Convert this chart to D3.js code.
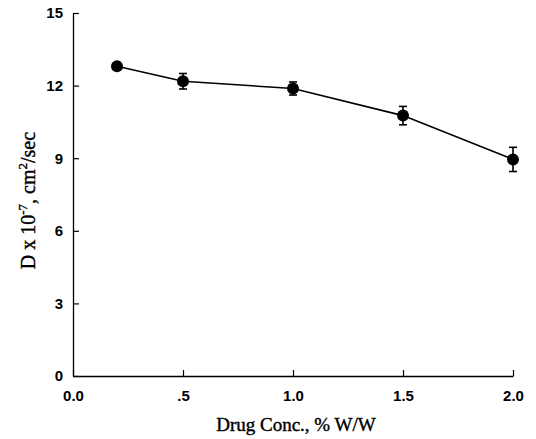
<!DOCTYPE html>
<html>
<head>
<meta charset="utf-8">
<script src="https://cdn.jsdelivr.net/npm/d3@7"></script>
<style>
  body { margin: 0; background: #fff; }
</style>
</head>
<body>
<div id="chart"></div>
<script>
// data
const conc = [0.2, 0.5, 1.0, 1.5, 2.0];
const diffusion = [12.8, 12.18, 11.88, 10.76, 8.95];
const errBar = [0, 0.32, 0.27, 0.38, 0.5];
const xTicks = [0, 0.5, 1.0, 1.5, 2.0];
const xTickLabels = ["0.0", ".5", "1.0", "1.5", "2.0"];
const yTicks = [0, 3, 6, 9, 12, 15];

const margin = {top: 13, right: 23, bottom: 63, left: 73},
  width = 536 - margin.left - margin.right,
  height = 439 - margin.top - margin.bottom;

const svg = d3.select("#chart")
  .append("svg")
    .attr("width", 536)
    .attr("height", 439)
  .append("g")
    .attr("transform", `translate(${margin.left},${margin.top})`);

const x = d3.scaleLinear().domain([0, 2]).range([0, width]);
const y = d3.scaleLinear().domain([0, 15]).range([height, 0]);

// X axis, ticks pointing inward
const xAxis = svg.append("g")
  .attr("transform", `translate(0,${height})`)
  .call(d3.axisBottom(x).tickValues(xTicks)
    .tickSizeInner(-6).tickSizeOuter(0)
    .tickFormat((d, i) => xTickLabels[i]));
xAxis.selectAll("text")
  .attr("y", 14)
  .style("font-family", "'Liberation Sans', Arial, sans-serif")
  .style("font-weight", "bold")
  .style("font-size", "15px");

// Y axis
const yAxis = svg.append("g")
  .call(d3.axisLeft(y).tickValues(yTicks)
    .tickSizeInner(-6).tickSizeOuter(0));
yAxis.selectAll("text")
  .attr("x", -10)
  .style("font-family", "'Liberation Sans', Arial, sans-serif")
  .style("font-weight", "bold")
  .style("font-size", "15px");

svg.selectAll(".domain").attr("stroke", "#000").attr("stroke-width", 1.3);
svg.selectAll(".tick line").attr("stroke", "#000").attr("stroke-width", 1.2);

// axis labels
svg.append("text")
  .attr("x", width / 2 + 3)
  .attr("y", height + 55)
  .style("text-anchor", "middle")
  .style("font-family", "'Liberation Serif', 'Times New Roman', serif")
  .style("font-size", "19px")
  .attr("stroke", "#000")
  .attr("stroke-width", 0.4)
  .text("Drug Conc., % W/W");

const yl = svg.append("text")
  .attr("transform", "rotate(-90)")
  .attr("x", -(y(7.25)))
  .attr("y", -38)
  .style("text-anchor", "middle")
  .style("font-family", "'Liberation Serif', 'Times New Roman', serif")
  .style("font-size", "20px")
  .attr("stroke", "#000")
  .attr("stroke-width", 0.4);
yl.append("tspan").text("D x 10");
yl.append("tspan").attr("dy", -8).style("font-size", "13px").text("-7");
yl.append("tspan").attr("dy", 8).text(", cm");
yl.append("tspan").attr("dy", -8).style("font-size", "13px").text("2");
yl.append("tspan").attr("dy", 8).text("/sec");

const pts = conc.map((c, i) => ({c: c, d: diffusion[i], e: errBar[i]}));

// line
svg.append("path")
  .datum(pts)
  .attr("fill", "none")
  .attr("stroke", "#000")
  .attr("stroke-width", 1.6)
  .attr("d", d3.line().x(d => x(d.c)).y(d => y(d.d)));

// error bars
const eb = svg.selectAll(".err")
  .data(pts.filter(d => d.e > 0))
  .join("g")
    .attr("stroke", "#000")
    .attr("stroke-width", 1.6);
eb.append("line")
  .attr("x1", d => x(d.c)).attr("x2", d => x(d.c))
  .attr("y1", d => y(d.d + d.e)).attr("y2", d => y(d.d - d.e));
eb.append("line")
  .attr("x1", d => x(d.c) - 4).attr("x2", d => x(d.c) + 4)
  .attr("y1", d => y(d.d + d.e)).attr("y2", d => y(d.d + d.e));
eb.append("line")
  .attr("x1", d => x(d.c) - 4).attr("x2", d => x(d.c) + 4)
  .attr("y1", d => y(d.d - d.e)).attr("y2", d => y(d.d - d.e));

// markers
svg.selectAll("circle")
  .data(pts)
  .join("circle")
    .attr("cx", d => x(d.c))
    .attr("cy", d => y(d.d))
    .attr("r", 6)
    .attr("fill", "#000");
</script>
</body>
</html>
